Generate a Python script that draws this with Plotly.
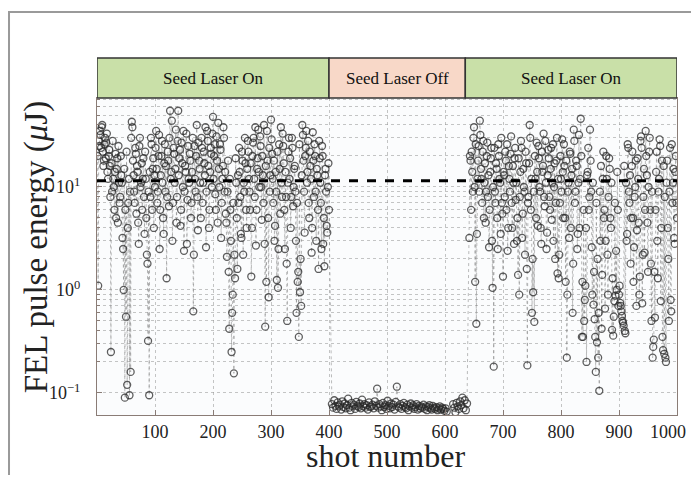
import plotly.graph_objects as go

# ---- data ----
on1_even_shots = list(range(2, 401, 2))
on1_even_values = [
    1.1, 25, 32, 38, 22, 18, 30, 27, 14, 20,
    16, 0.25, 9, 12, 6, 21, 15, 4.5, 11, 8,
    13, 3.2, 1.0, 0.09, 0.55, 0.12, 7, 0.095, 0.16, 43,
    18, 9, 24, 5.5, 14, 2.8, 30, 11, 6, 19,
    3.5, 12, 2.2, 0.32, 0.095, 8, 26, 15, 4, 10,
    35, 7, 20, 2.5, 13, 28, 5, 17, 9, 1.3,
    22, 6.5, 55, 14, 3, 24, 11, 36, 8, 55,
    19, 4.2, 27, 10, 2.4, 16, 33, 7.5, 12, 21,
    5, 14, 0.62, 25, 9, 40, 3.8, 18, 11, 30,
    7, 22, 13, 2.6, 35, 16, 6, 24, 10, 48,
    20, 8.5, 31, 4.5, 15, 26, 3.2, 12, 38, 9,
    5.5, 2.1, 18, 0.42, 6, 0.25, 0.9, 0.155, 1.3, 11,
    1.6, 7, 14, 3.5, 22, 2.2, 9, 17, 4, 28,
    12, 6, 1.35, 20, 30, 8, 2.7, 15, 36, 10,
    25, 4.8, 13, 40, 0.44, 1.2, 18, 0.85, 9, 45,
    21, 7, 3, 14, 1.25, 1.05, 26, 5.5, 11, 33,
    17, 2.5, 8, 0.5, 22, 12, 4, 30, 6.5, 15,
    9, 0.6, 1.2, 0.35, 0.95, 0.7, 40, 18, 3.6, 24,
    11, 28, 5, 16, 2.3, 34, 8, 20, 3, 13,
    1.6, 19, 7, 25, 2.8, 1.7, 15, 4.2, 10, 6,
]
on1_odd_shots = list(range(1, 400, 2))
on1_odd_values = [
    20, 28, 35, 24, 40, 16, 26, 19, 33, 12,
    23, 8, 17, 28, 10, 14, 5, 19, 25, 7,
    20, 11, 2.5, 15, 6, 22, 4, 12, 9, 30,
    38, 13, 7, 21, 16, 4.5, 25, 10, 17, 12,
    8, 22, 5, 1.8, 9, 14, 30, 6, 19, 13,
    24, 15, 9, 32, 6, 20, 11, 3.5, 26, 16,
    8, 18, 30, 12, 44, 7, 21, 15, 4.5, 28,
    13, 23, 6, 17, 35, 9, 14, 2.8, 25, 11,
    18, 7, 30, 2.2, 12, 20, 8, 27, 15, 5,
    24, 11, 17, 38, 9, 28, 4, 14, 21, 33,
    12, 26, 6, 18, 42, 10, 23, 7, 16, 30,
    14, 4.5, 9, 1.5, 12, 3, 0.6, 7, 2.2, 19,
    5, 13, 24, 8, 3.2, 18, 11, 30, 6, 15,
    22, 9, 17, 4, 27, 12, 38, 6, 19, 14,
    31, 10, 20, 7, 2.8, 16, 35, 5, 24, 13,
    29, 12, 18, 4.2, 9, 22, 2.5, 15, 38, 8,
    25, 6, 14, 1.8, 11, 30, 19, 8, 24, 10,
    16, 3, 7, 1.5, 26, 2, 13, 32, 9, 20,
    35, 14, 7, 22, 12, 4, 18, 26, 9, 15,
    6, 28, 11, 2.5, 20, 5, 13, 9, 3.6, 17,
]

off1_shots = list(range(405, 604, 2))
off1_values = [
    0.078, 0.072, 0.085, 0.075, 0.07, 0.081, 0.074, 0.077, 0.069, 0.083,
    0.073, 0.079, 0.071, 0.076, 0.088, 0.072, 0.068, 0.08, 0.074, 0.077,
    0.07, 0.082, 0.075, 0.073, 0.079, 0.071, 0.086, 0.074, 0.078, 0.072,
    0.076, 0.069, 0.081, 0.073, 0.074, 0.077, 0.071, 0.083, 0.075, 0.11,
    0.072, 0.078, 0.074, 0.068, 0.08, 0.073, 0.076, 0.07, 0.084, 0.075,
    0.071, 0.079, 0.073, 0.077, 0.069, 0.082, 0.115, 0.074, 0.072, 0.078,
    0.07, 0.075, 0.08, 0.073, 0.071, 0.077, 0.068, 0.074, 0.079, 0.072,
    0.076, 0.07, 0.073, 0.078, 0.069, 0.075, 0.071, 0.074, 0.072, 0.077,
    0.07, 0.074, 0.068, 0.073, 0.076, 0.071, 0.069, 0.075, 0.072, 0.07,
    0.073, 0.068, 0.071, 0.074, 0.069, 0.072, 0.07, 0.067, 0.071, 0.066,
]
off2_shots = list(range(614, 639, 2))
off2_values = [0.078, 0.072, 0.065, 0.08, 0.074, 0.07, 0.083, 0.076, 0.09, 0.071, 0.085, 0.068, 0.079]

on2_even_shots = list(range(642, 1001, 2))
on2_even_values = [
    3.2, 18, 22, 9, 38, 1.2, 0.47, 12, 25, 44,
    15, 7, 28, 11, 4.5, 20, 8, 2.6, 14, 24,
    1.05, 0.18, 9, 17, 5, 26, 12, 3.5, 7, 1.35,
    13, 22, 6, 2.4, 16, 9, 31, 4, 11, 19,
    7.5, 3, 1.4, 0.9, 14, 24, 5.5, 10, 2.2, 17,
    0.185, 8, 40, 6, 0.6, 0.95, 0.49, 12, 27, 4.2,
    19, 9, 2.8, 14, 33, 6.5, 11, 3.6, 23, 8,
    15, 4.8, 26, 10, 2, 18, 1.45, 1.3, 7, 12,
    29, 5, 16, 1.2, 0.22, 9, 3.2, 21, 13, 0.6,
    36, 7, 18, 2.5, 11, 4, 46, 0.35, 0.35, 0.5,
    1.1, 0.2, 14, 6, 36, 9, 0.9, 0.72, 0.52, 0.16,
    0.31, 0.22, 0.105, 3, 0.42, 12, 5, 0.66, 20, 2.2,
    8, 15, 4, 0.41, 0.36, 0.78, 0.88, 1.0, 6, 0.9,
    0.75, 0.62, 0.5, 0.45, 0.4, 11, 3.5, 24, 7, 1.8,
    16, 5, 2.6, 10, 0.7, 19, 4.5, 1.35, 31, 0.74,
    8, 2.3, 35, 13, 1.5, 22, 6, 0.5, 0.22, 0.33,
    0.54, 14, 3, 9, 29, 0.78, 18, 0.26, 0.24, 0.22,
    11, 4, 0.5, 24, 0.62, 7, 15, 2.8, 20, 5,
]
on2_odd_shots = list(range(643, 1000, 2))
on2_odd_values = [
    20, 6, 14, 30, 10, 26, 3.5, 18, 9, 32,
    12, 22, 5, 17, 9, 27, 13, 6, 19, 3,
    10, 24, 7, 15, 2.5, 20, 11, 30, 5.5, 14,
    8, 18, 26, 4, 12, 21, 7, 16, 2.8, 24,
    11, 5, 19, 8, 28, 3.2, 15, 9, 22, 1.6,
    7, 17, 30, 12, 2, 9, 20, 5, 14, 25,
    10, 4, 22, 16, 8, 28, 2.5, 13, 19, 6,
    24, 11, 3, 17, 7, 30, 12, 2.2, 20, 9,
    14, 26, 5, 18, 0.9, 11, 22, 4, 15, 1.8,
    28, 9, 16, 3.5, 32, 12, 20, 1.2, 6, 0.8,
    4, 13, 24, 8, 18, 2.6, 11, 1.5, 0.35, 7,
    2, 0.6, 9, 16, 1.4, 22, 6, 3, 12, 0.9,
    19, 5, 11, 1.3, 0.55, 7, 2.4, 14, 0.7, 1.1,
    0.7, 0.56, 0.48, 16, 0.38, 3, 26, 9, 13, 5,
    22, 1.2, 8, 18, 3.8, 12, 0.9, 28, 24, 2.2,
    15, 6, 20, 4.5, 10, 30, 1.8, 9, 0.28, 1.5,
    6, 22, 1.3, 12, 25, 4, 0.35, 16, 8, 0.2,
    18, 2, 9, 0.8, 26, 11, 3.2, 14, 7,
]

threshold_x = [0, 1000]
threshold_y = [11.5, 11.5]

regions = ["Seed Laser On", "Seed Laser Off", "Seed Laser On"]
region_start = [0, 400, 635]
region_end = [400, 635, 1000]
region_color = ["#c9e0a8", "#f8d8c8", "#c9e0a8"]

x_ticks = [100, 200, 300, 400, 500, 600, 700, 800, 900, 1000]
# last label padded so it stays inside the page edge
x_tick_text = ["100", "200", "300", "400", "500", "600", "700", "800", "900",
               "1000\u00a0\u00a0\u00a0\u00a0"]
y_major = [0.1, 1, 10]
y_major_text = ["10<sup>\u22121</sup>", "10<sup>0</sup>", "10<sup>1</sup>"]
y_minor_mult = [2, 3, 4, 5, 6, 7, 8, 9]

# ---- build (merge shots in order) ----
pairs = sorted(
    list(zip(on1_even_shots, on1_even_values)) + list(zip(on1_odd_shots, on1_odd_values))
    + list(zip(off1_shots, off1_values)) + list(zip(off2_shots, off2_values))
    + list(zip(on2_even_shots, on2_even_values)) + list(zip(on2_odd_shots, on2_odd_values))
)
shots = [p[0] for p in pairs]
values = [p[1] for p in pairs]

fig = go.Figure()
fig.add_trace(go.Scatter(
    x=shots, y=values, mode="lines+markers",
    line=dict(color="rgba(120,120,120,0.5)", width=1, dash="dot"),
    marker=dict(symbol="circle-open", size=7, color="rgba(40,40,40,0.75)",
                line=dict(width=1.3)),
    showlegend=False,
))
fig.add_trace(go.Scatter(
    x=threshold_x, y=threshold_y, mode="lines",
    line=dict(color="black", width=3, dash="dash"), showlegend=False,
))

minor_vals = [d * m for d in y_major for m in y_minor_mult if d * m < 80]

axis_col = "#8a7c76"
grid_col = "rgba(150,150,150,0.55)"
fig.update_xaxes(
    range=[0, 1000], tickvals=x_ticks, ticktext=x_tick_text, ticks="inside", ticklen=5,
    tickcolor=axis_col, showline=True, linecolor=axis_col, mirror=True,
    showgrid=True, gridcolor=grid_col, griddash="dot", zeroline=False,
    ticklabeloverflow="allow", automargin=False,
    tickfont=dict(family="Liberation Serif", size=18, color="#222"),
)
fig.update_yaxes(
    type="log", range=[-1.214, 1.864], tickvals=y_major, ticktext=y_major_text,
    ticks="inside", ticklen=5, tickcolor=axis_col, showline=True,
    linecolor=axis_col, mirror=True, showgrid=True, gridcolor=grid_col,
    griddash="dot", zeroline=False, ticklabelstandoff=12, automargin=False,
    minor=dict(tickvals=minor_vals, ticks="inside", ticklen=3, tickcolor=axis_col,
               showgrid=True, gridcolor=grid_col, griddash="dot"),
    tickfont=dict(family="Liberation Serif", size=18, color="#222"),
)

shapes = []
annotations = []
for name, a, b, c in zip(regions, region_start, region_end, region_color):
    shapes.append(dict(type="rect", xref="x", yref="paper", x0=a, x1=b,
                       y0=1.0, y1=1.126, fillcolor=c,
                       line=dict(color="#333", width=1.5), layer="above"))
    annotations.append(dict(x=(a + b) / 2, xref="x", y=1.063, yref="paper",
                            text=name, showarrow=False, yanchor="middle",
                            font=dict(family="Liberation Serif", size=17, color="#111")))
shapes.append(dict(type="rect", xref="paper", yref="paper",
                   x0=-0.1517, x1=1.2, y0=-0.3, y1=1.271,
                   line=dict(color="#9a9a9a", width=2), fillcolor="rgba(0,0,0,0)"))

annotations.append(dict(text="shot number", xref="paper", yref="paper",
                        x=0.497, y=-0.128, showarrow=False, yanchor="middle",
                        font=dict(family="Liberation Serif", size=32, color="#222")))
annotations.append(dict(text="FEL pulse energy (<i>\u03bc</i>J)", xref="paper", yref="paper",
                        x=-0.103, y=0.53, textangle=-90, showarrow=False,
                        xanchor="center", yanchor="middle",
                        font=dict(family="Liberation Serif", size=33, color="#222")))

# the page body adds an 8px margin, so the figure is sized to sit inside it
fig.update_layout(
    width=683, height=467,
    margin=dict(l=89, r=14, t=90, b=60, autoexpand=False),
    paper_bgcolor="white", plot_bgcolor="#fbfcfd",
    shapes=shapes, annotations=annotations,
)

fig.write_html("out.html")
